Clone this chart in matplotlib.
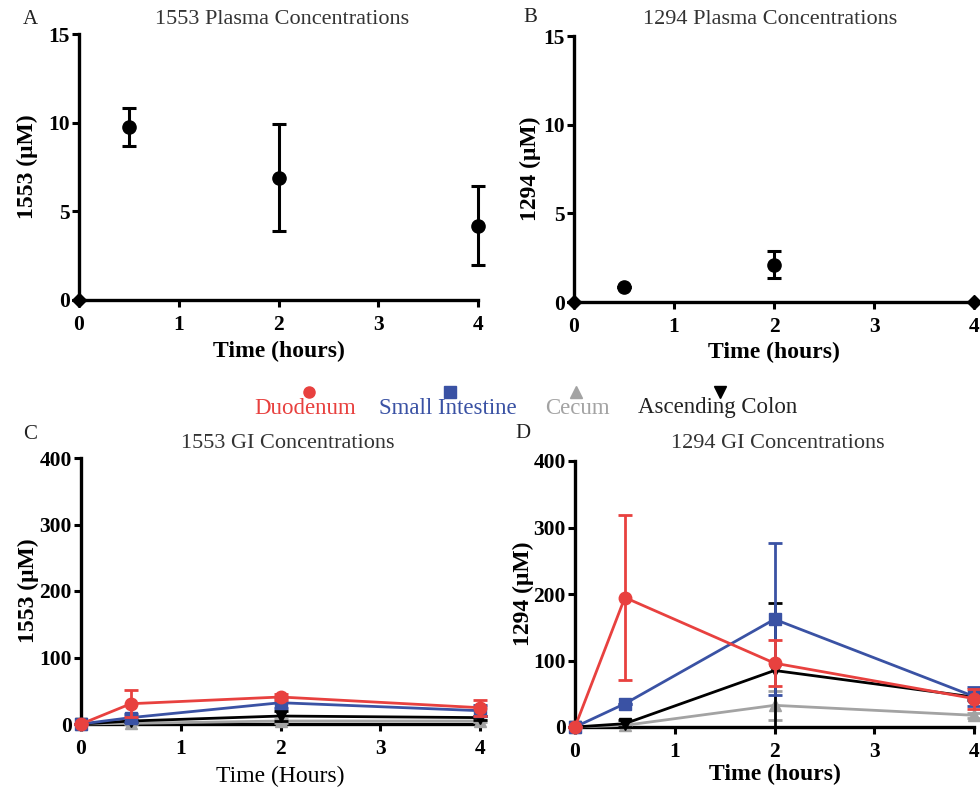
import matplotlib
matplotlib.use("Agg")
import matplotlib.pyplot as plt
from matplotlib.lines import Line2D
import numpy as np

plt.rcParams['font.family'] = ['Liberation Serif', 'DejaVu Serif']

# ---------------- data ----------------
time = [0, 0.5, 2, 4]

# Plasma
plasma_1553 = [0, 9.75, 6.9, 4.2]
plasma_1553_err = [0, 1.05, 3.0, 2.25]
plasma_1294 = [0, 0.85, 2.1, 0]
plasma_1294_err = [0, 0, 0.75, 0]

# GI tissues
tissues = ["Duodenum", "Small Intestine", "Cecum", "Ascending Colon"]
gi_1553 = {
    "Duodenum":        [0, 30.5, 40.6, 24.5],
    "Small Intestine": [0, 9.6, 32.0, 20.0],
    "Cecum":           [0, 1.0, 4.5, 4.5],
    "Ascending Colon": [0, 4.5, 12.0, 9.6],
}
gi_1553_err = {
    "Duodenum":        [0, 20.0, 5.0, 12.0],
    "Small Intestine": [0, 6.0, 8.0, 8.0],
    "Cecum":           [0, 1.0, 3.0, 2.0],
    "Ascending Colon": [0, 2.0, 7.0, 3.0],
}
gi_1294 = {
    "Duodenum":        [0, 194.7, 96.0, 42.7],
    "Small Intestine": [0, 35.0, 162.0, 46.0],
    "Cecum":           [0, 2.5, 32.6, 17.6],
    "Ascending Colon": [0, 5.0, 85.0, 45.0],
}
gi_1294_err = {
    "Duodenum":        [0, 123.5, 35.0, 15.0],
    "Small Intestine": [0, 0, 114.0, 14.0],
    "Cecum":           [0, 0, 22.0, 4.0],
    "Ascending Colon": [0, 5.0, 101.0, 4.0],
}

colors = {"Duodenum": "#E8413F", "Small Intestine": "#3A52A4",
          "Cecum": "#A3A3A3", "Ascending Colon": "#000000"}
markers = {"Duodenum": "o", "Small Intestine": "s",
           "Cecum": "^", "Ascending Colon": "v"}
draw_order = ["Cecum", "Ascending Colon", "Small Intestine", "Duodenum"]

# ---------------- figure ----------------
fig = plt.figure(figsize=(9.8, 7.88), dpi=100)

W, H = 980.0, 788.0
def ax_at(x0, x1, ytop, ybot):
    return fig.add_axes([x0 / W, 1 - ybot / H, (x1 - x0) / W, (ybot - ytop) / H])

axA = ax_at(79, 478, 34, 300)
axB = ax_at(574, 974, 36, 302)
axC = ax_at(81, 480, 458, 724)
axD = ax_at(575, 974, 461, 727)

TICK_FS = 15.5
LABEL_FS = 17
TITLE_FS = 16

def style(ax, ymax, yticks, ylabel, xlabel, xbold, ylab_xy, xlab_y):
    ax.set_xlim(0, 4)
    ax.set_ylim(0, ymax)
    ax.set_xticks([0, 1, 2, 3, 4])
    ax.set_yticks(yticks)
    for s in ("top", "right"):
        ax.spines[s].set_visible(False)
    for s in ("left", "bottom"):
        ax.spines[s].set_linewidth(2.4)
    ax.tick_params(direction="out", length=5, width=2.2, labelsize=TICK_FS)
    ax.tick_params(axis="x", pad=5.5)
    ax.tick_params(axis="y", pad=1.5)
    for lab in ax.get_xticklabels() + ax.get_yticklabels():
        lab.set_fontweight("bold")
    yl = ax.set_ylabel(ylabel, fontsize=LABEL_FS, fontweight="bold")
    xl = ax.set_xlabel(xlabel, fontsize=LABEL_FS, fontweight="bold" if xbold else "normal")
    ax.yaxis.set_label_coords(*ylab_xy)
    ax.xaxis.set_label_coords(0.5, xlab_y)
    yl.set_va("center"); yl.set_ha("center")
    xl.set_va("center")
    ax.patch.set_alpha(0)

def plasma(ax, y, e):
    y = np.array(y, float); e = np.array(e, float)
    t = np.array(time, float)
    lower = np.minimum(e, y)
    ax.errorbar(t, y, yerr=[lower, e], fmt="none", ecolor="black",
                elinewidth=2.2, capsize=5, capthick=2.2, clip_on=False, zorder=3)
    zero = y == 0
    ax.plot(t[~zero], y[~zero], "o", color="black", ms=9.5, clip_on=False, zorder=4)
    ax.plot(t[zero], y[zero], "D", color="black", ms=7, clip_on=False, zorder=4)

plasma(axA, plasma_1553, plasma_1553_err)
plasma(axB, plasma_1294, plasma_1294_err)

def gi(ax, vals, errs):
    t = np.array(time, float)
    for i, name in enumerate(draw_order):
        y = np.array(vals[name], float)
        e = np.array(errs[name], float)
        lower = np.minimum(e, y)
        z = 3 + i
        ax.errorbar(t, y, yerr=[lower, e], fmt="none", ecolor=colors[name],
                    elinewidth=2, capsize=5, capthick=2, clip_on=False, zorder=z)
        ax.plot(t, y, "-", marker=markers[name], color=colors[name], lw=2,
                ms=9, clip_on=False, zorder=z + 0.5)

gi(axC, gi_1553, gi_1553_err)
gi(axD, gi_1294, gi_1294_err)

style(axA, 15, [0, 5, 10, 15], "1553 (μM)", "Time (hours)", True, (-0.130, 0.5), -0.195)
style(axB, 15, [0, 5, 10, 15], "1294 (μM)", "Time (hours)", True, (-0.110, 0.5), -0.188)
style(axC, 400, [0, 100, 200, 300, 400], "1553 (μM)", "Time (Hours)", False, (-0.132, 0.5), -0.199)
style(axD, 400, [0, 100, 200, 300, 400], "1294 (μM)", "Time (hours)", True, (-0.130, 0.5), -0.18)

# titles
for (x, y, s) in [(282, 20, "1553 Plasma Concentrations"), (770, 20, "1294 Plasma Concentrations"),
                  (288, 443, "1553 GI Concentrations"), (778, 443, "1294 GI Concentrations")]:
    fig.text(x / W, 1 - y / H, s, fontsize=TITLE_FS, color="#333333", ha="center", va="center")

# panel letters
for (x, y, s) in [(30, 19, "A"), (530, 18, "B"), (30, 434, "C"), (523, 433, "D")]:
    fig.text(x / W, 1 - y / H, s, fontsize=15, color="#222222", ha="center", va="center")

# legend: marker above label
leg_x = {"Duodenum": 305, "Small Intestine": 448, "Cecum": 577, "Ascending Colon": 718}
mk_x = {"Duodenum": 309, "Small Intestine": 450, "Cecum": 576, "Ascending Colon": 720}
for name in tissues:
    c = colors[name] if name != "Ascending Colon" else "#222222"
    fig.text(leg_x[name] / W, 1 - 408 / H, name, fontsize=16.5, color=c,
             ha="center", va="center")
    fig.add_artist(Line2D([mk_x[name] / W], [1 - 392 / H], marker=markers[name],
                          color=colors[name], ms=8, ls="none",
                          transform=fig.transFigure))

fig.savefig("out.png", dpi=100)
